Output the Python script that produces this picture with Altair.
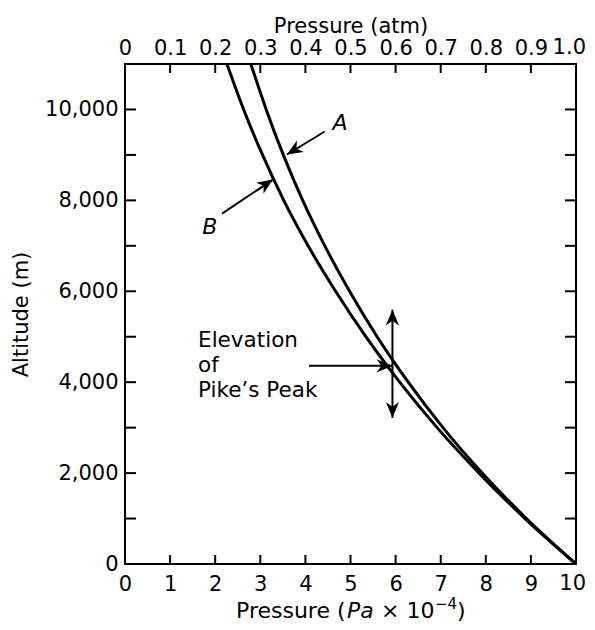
import math
import altair as alt
import pandas as pd

# ---------------- data ----------------
altitude_m = [0, 1000, 2000, 3000, 4000, 5000, 6000, 7000, 8000, 9000, 10000, 11000]
pressure_A = [10.0, 8.90, 7.92, 7.05, 6.28, 5.59, 4.98, 4.43, 3.94, 3.51, 3.13, 2.79]
pressure_B = [10.0, 8.87, 7.85, 6.92, 6.09, 5.34, 4.67, 4.06, 3.52, 3.05, 2.63, 2.26]

x_tick_values = [0, 1, 2, 3, 4, 5, 6, 7, 8, 9]
x_end_value = 10
x_end_label_bottom = "10"
x_end_label_top = "1.0"
x_minor_ticks = [1, 2, 3, 4, 5, 6, 7, 8, 9]
y_tick_values = [0, 2000, 4000, 6000, 8000, 10000]
y_minor_ticks = [1000, 2000, 3000, 4000, 5000, 6000, 7000, 8000, 9000, 10000]

# arrows: tail -> tip (data units)
arrow_names = ["A", "B", "peak", "up", "down"]
arrow_x1 = [4.43, 2.15, 4.08, 5.93, 5.93]
arrow_y1 = [9515, 7709, 4361, 4361, 4361]
arrow_x2 = [3.59, 3.28, 5.93, 5.93, 5.93]
arrow_y2 = [9009, 8458, 4361, 5595, 3216]

W, H = 451, 500
XMAX, YMAX = 10, 11000
FONT = "DejaVu Sans"

curves = pd.DataFrame(
    {
        "p": pressure_A + pressure_B,
        "alt": altitude_m + altitude_m,
        "curve": ["A"] * len(altitude_m) + ["B"] * len(altitude_m),
    }
)

xscale = alt.Scale(domain=[0, XMAX], nice=False, zero=False)
yscale = alt.Scale(domain=[0, YMAX], nice=False, zero=False)

lines = (
    alt.Chart(curves)
    .mark_line(interpolate="monotone", color="black", strokeWidth=3)
    .encode(
        x=alt.X(
            "p:Q",
            scale=xscale,
            axis=alt.Axis(
                orient="bottom",
                values=x_tick_values,
                format="d",
                ticks=False,
                domain=False,
                grid=False,
                title=None,
                labelFont=FONT,
                labelFontSize=21,
                labelColor="black",
                labelPadding=9,
                labelOverlap=False,
                labelFlush=False,
            ),
        ),
        y=alt.Y(
            "alt:Q",
            scale=yscale,
            axis=alt.Axis(
                orient="left",
                values=y_tick_values,
                format=",d",
                ticks=False,
                domain=False,
                grid=False,
                title="Altitude (m)",
                titleFont=FONT,
                titleFontSize=21,
                titleFontWeight="normal",
                titleColor="black",
                titleX=-104,
                titleY=H / 2,
                titleAngle=270,
                titleAlign="center",
                titleBaseline="middle",
                labelFont=FONT,
                labelFontSize=21,
                labelColor="black",
                labelPadding=7,
                labelOverlap=False,
                labelFlush=False,
            ),
        ),
        detail="curve:N",
        order="alt:Q",
    )
)

xticks_df = pd.DataFrame({"x": x_minor_ticks})
top_axis_ticks = (
    alt.Chart(xticks_df)
    .mark_rule(color="black", strokeWidth=2)
    .encode(
        x=alt.X(
            "x:Q",
            scale=xscale,
            axis=alt.Axis(
                orient="top",
                values=x_tick_values,
                labelExpr="datum.value == 0 ? '0' : format(datum.value / 10, '.1f')",
                ticks=False,
                domain=False,
                grid=False,
                title="Pressure (atm)",
                titleFont=FONT,
                titleFontSize=21,
                titleFontWeight="normal",
                titleColor="black",
                titleY=-38,
                titleX=W / 2,
                titleAlign="center",
                titleBaseline="middle",
                labelFont=FONT,
                labelFontSize=21,
                labelColor="black",
                labelPadding=6,
                labelOverlap=False,
                labelFlush=False,
            ),
        ),
        y=alt.value(0),
        y2=alt.value(9),
    )
)

# end labels (10 / 1.0) kept inside the page width
end_df = pd.DataFrame({"x": [x_end_value], "b": [x_end_label_bottom], "t": [x_end_label_top]})
end_bottom = (
    alt.Chart(end_df)
    .mark_text(font=FONT, fontSize=21, color="black", align="right", baseline="top", dx=10)
    .encode(x=alt.X("x:Q", scale=xscale, axis=None), y=alt.value(H + 9), text="b:N")
)
end_top = (
    alt.Chart(end_df)
    .mark_text(font=FONT, fontSize=21, color="black", align="right", baseline="bottom", dx=10)
    .encode(x=alt.X("x:Q", scale=xscale, axis=None), y=alt.value(-6), text="t:N")
)

bottom_ticks = (
    alt.Chart(xticks_df)
    .mark_rule(color="black", strokeWidth=2)
    .encode(x=alt.X("x:Q", scale=xscale, axis=None), y=alt.value(H), y2=alt.value(H - 9))
)

yticks_df = pd.DataFrame({"y": y_minor_ticks})
left_ticks = (
    alt.Chart(yticks_df)
    .mark_rule(color="black", strokeWidth=2)
    .encode(y=alt.Y("y:Q", scale=yscale, axis=None), x=alt.value(0), x2=alt.value(11))
)
right_ticks = (
    alt.Chart(yticks_df)
    .mark_rule(color="black", strokeWidth=2)
    .encode(y=alt.Y("y:Q", scale=yscale, axis=None), x=alt.value(W), x2=alt.value(W - 11))
)

# arrows
PX_X = W / XMAX
PX_Y = H / YMAX
angles = []
for x1, y1, x2, y2 in zip(arrow_x1, arrow_y1, arrow_x2, arrow_y2):
    dx = (x2 - x1) * PX_X
    dy = -(y2 - y1) * PX_Y
    angles.append(math.degrees(math.atan2(dy, dx)) % 360)

arrows_df = pd.DataFrame(
    {"name": arrow_names, "x1": arrow_x1, "y1": arrow_y1, "x2": arrow_x2, "y2": arrow_y2, "angle": angles}
)

arrow_lines = (
    alt.Chart(arrows_df)
    .mark_rule(color="black", strokeWidth=2)
    .encode(
        x=alt.X("x1:Q", scale=xscale, axis=None),
        y=alt.Y("y1:Q", scale=yscale, axis=None),
        x2="x2:Q",
        y2="y2:Q",
    )
)

head_path = "M0,0 L-1,-0.42 L-0.7,0 L-1,0.42 Z"
arrow_heads = (
    alt.Chart(arrows_df)
    .mark_point(shape=head_path, filled=True, color="black", opacity=1, size=1000, strokeWidth=0.5)
    .encode(
        x=alt.X("x2:Q", scale=xscale, axis=None),
        y=alt.Y("y2:Q", scale=yscale, axis=None),
        angle=alt.Angle("angle:Q", scale=None),
    )
)

# text labels
label_df = pd.DataFrame({"x": [4.77, 1.88], "y": [9710, 7420], "t": ["A", "B"]})
curve_labels = (
    alt.Chart(label_df)
    .mark_text(font=FONT, fontSize=22, fontStyle="italic", color="black", baseline="middle", align="center")
    .encode(
        x=alt.X("x:Q", scale=xscale, axis=None),
        y=alt.Y("y:Q", scale=yscale, axis=None),
        text="t:N",
    )
)

peak_df = pd.DataFrame({"x": [1.62], "y": [4910]})
peak_text = (
    alt.Chart(peak_df)
    .mark_text(
        font=FONT,
        fontSize=21.5,
        color="black",
        align="left",
        baseline="middle",
        lineHeight=25,
        text=["Elevation", "of", "Pike\u2019s Peak"],
    )
    .encode(x=alt.X("x:Q", scale=xscale, axis=None), y=alt.Y("y:Q", scale=yscale, axis=None))
)

one = pd.DataFrame({"k": [0]})


def title_piece(txt, px, py, align="left", size=22, style="normal"):
    return (
        alt.Chart(one)
        .mark_text(
            text=txt,
            font=FONT,
            fontSize=size,
            fontStyle=style,
            color="black",
            align=align,
            baseline="middle",
        )
        .encode(x=alt.value(px), y=alt.value(py))
    )


# bottom axis title: Pressure (Pa x 10^-4), placed in plot pixels
TY = 547
bottom_title = [
    title_piece("Pressure (", 111, TY),
    title_piece("Pa", 222, TY, style="italic"),
    title_piece("\u00d7 10", 256, TY),
    title_piece("\u22124", 310, TY - 7, size=15),
    title_piece(")", 332, TY),
]

chart = (
    alt.layer(
        lines,
        top_axis_ticks,
        end_bottom,
        end_top,
        bottom_ticks,
        left_ticks,
        right_ticks,
        arrow_lines,
        arrow_heads,
        curve_labels,
        peak_text,
        *bottom_title,
    )
    .resolve_axis(x="independent", y="independent")
    .properties(
        width=W,
        height=H,
        padding={"left": 117, "top": 56, "right": 11, "bottom": 58},
        autosize=alt.AutoSizeParams(type="none"),
        background="white",
    )
    .configure_view(stroke="black", strokeWidth=2)
)

chart.save("out.html", embed_options={"renderer": "svg", "actions": False})
